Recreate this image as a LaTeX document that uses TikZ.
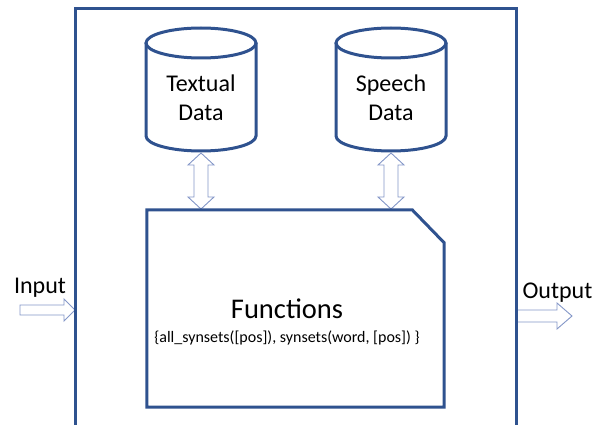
\documentclass[tikz,border=0pt]{standalone}
\usepackage{fontspec}
\setmainfont{Carlito}

\definecolor{frameblue}{HTML}{2F528F}
\definecolor{arrowblue}{HTML}{8497C8}

\begin{document}
\begin{tikzpicture}[x=1pt, y=-1pt,
  frame/.style={draw=frameblue, line width=3pt},
  hollow/.style={draw=arrowblue, fill=white, line width=0.9pt, line join=miter},
  label/.style={font=\fontsize{24}{29}\selectfont, align=center, inner sep=0pt}]

\useasboundingbox (0,0) rectangle (600,425);

% Named anchor points
\coordinate (textual-bot) at (201,153);
\coordinate (speech-bot) at (391,153);
\coordinate (in-tail) at (20,310);
\coordinate (out-tail) at (516,316);

% === HOLLOW ARROWS (drawn first, frames go on top) ===
\foreach \nm in {textual,speech} {
  \draw[hollow] (\nm-bot) -- ++(13,12) -- ++(-6,0) -- ++(0,32) -- ++(6,0)
    -- ++(-13,12) -- ++(-13,-12) -- ++(6,0) -- ++(0,-32) -- ++(-6,0) -- cycle;
}
\draw[hollow] (in-tail) ++(0,-5) -- ++(44,0) -- ++(0,-6) -- ++(11,11)
  -- ++(-11,11) -- ++(0,-6) -- ++(-44,0) -- cycle;
\draw[hollow] (out-tail) ++(0,-6) -- ++(41,0) -- ++(0,-7) -- ++(15,13)
  -- ++(-15,13) -- ++(0,-7) -- ++(-41,0) -- cycle;

% === OUTER BOX (runs off the bottom) ===
\draw[frame] (75,425) -- (75,9) -- (516,9) -- (516,425);

% === DATABASES ===
\foreach \cx/\nm/\txt in {201/textual/{Textual\\Data}, 391/speech/{Speech\\Data}} {
  \draw[frame] ({\cx-55},43) -- ({\cx-55},136)
    arc[start angle=180, end angle=360, x radius=55pt, y radius=15pt] -- ({\cx+55},43);
  \draw[frame] (\cx,43) ellipse[x radius=55pt, y radius=15pt];
  \node[label] (\nm) at (\cx,98) {\txt};
}

% === FUNCTIONS (box with one cut corner) ===
\node[minimum width=297pt, minimum height=197pt, inner sep=0pt] (func) at (295.5,308.5) {};
\draw[frame, line join=miter] (func.north west) -- ([xshift=-32pt]func.north east)
  -- ([yshift=-33pt]func.north east) -- (func.south east) -- (func.south west) -- cycle;
\node[font=\fontsize{28.5}{34}\selectfont, inner sep=0pt, anchor=base] (functitle) at (287,318) {Functions};
\node[font=\fontsize{16}{19}\selectfont, inner sep=0pt, anchor=base] (funcargs) at (287,342)
  {\{all\_synsets([pos]), synsets(word, [pos]) \}};

% === INPUT / OUTPUT ===
\node[label, anchor=base] (input) at (40,293) {Input};
\node[label, anchor=base] (output) at (557.5,298) {Output};

\end{tikzpicture}
\end{document}
